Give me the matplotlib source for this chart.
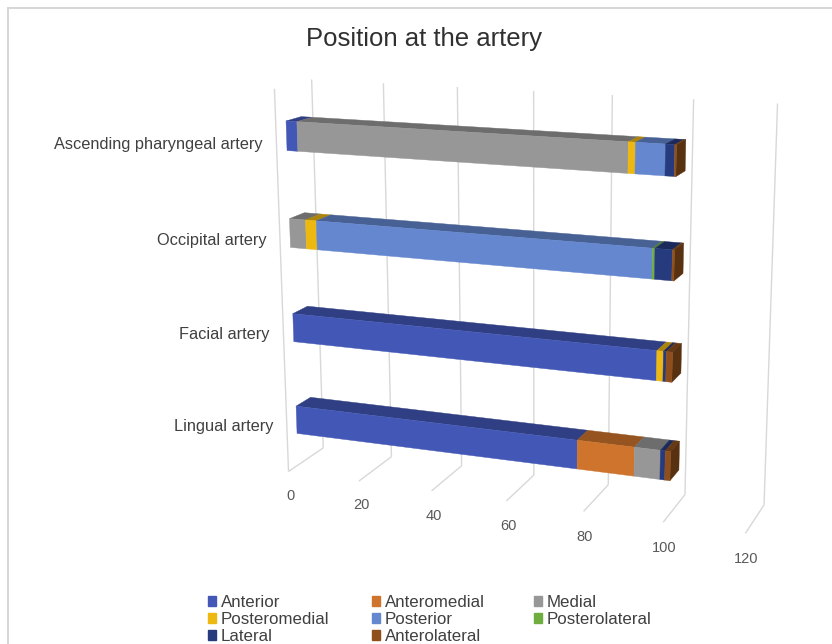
import numpy as np
import matplotlib
matplotlib.use("Agg")
import matplotlib.pyplot as plt
from matplotlib.lines import Line2D
from matplotlib.patches import Patch
from mpl_toolkits.mplot3d import proj3d
from mpl_toolkits.mplot3d.art3d import Line3DCollection, Poly3DCollection

plt.rcParams['font.family'] = ['Liberation Sans', 'DejaVu Sans']

categories = ["Lingual artery", "Facial artery", "Occipital artery", "Ascending pharyngeal artery"]
ticks = [0, 20, 40, 60, 80, 100, 120]

series_names = ["Anterior", "Anteromedial", "Medial", "Posteromedial",
                "Posterior", "Posterolateral", "Lateral", "Anterolateral"]
anterior = [76.5, 96.2, 0, 3]
anteromedial = [14.5, 0, 0, 0]
medial = [6.5, 0, 4.5, 85.5]
posteromedial = [0, 1.6, 3, 1.7]
posterior = [0, 0, 87.2, 7.2]
posterolateral = [0, 0, 0.6, 0]
lateral = [1.2, 0.7, 4.2, 2.2]
anterolateral = [1.3, 1.5, 0.5, 0.4]
series = [anterior, anteromedial, medial, posteromedial,
          posterior, posterolateral, lateral, anterolateral]
colors = ["#4358B6", "#CF742C", "#979797", "#EDB80F",
          "#6487CF", "#70AD3F", "#263A7E", "#8E4F1C"]

# camera of the picture: (value, depth, height) seen at pixel (px, py)
camera_world = [(v, 0, 0) for v in ticks] + [(v, 1, 0) for v in ticks] \
    + [(v, 1, 1) for v in ticks] + [(0, 0, 1)]
camera_pixel = [(289, 471), (358, 482), (432, 491), (507, 501), (583, 512), (663, 522), (745, 533),
                (323, 448), (391, 457), (462, 465), (534, 475), (609, 484), (685, 495), (764, 505),
                (312, 80), (383, 83), (457, 87), (533, 91), (612, 95), (694, 100), (778, 103),
                (275, 88)]


def fitCamera(world, pixel):
    rows = []
    rhs = []
    for (x, y, z), (px, py) in zip(world, pixel):
        rows.append([x, y, z, 1, 0, 0, 0, 0, -px * x, -px * y, -px * z])
        rhs.append(px)
        rows.append([0, 0, 0, 0, x, y, z, 1, -py * x, -py * y, -py * z])
        rhs.append(py)
    p = np.linalg.lstsq(np.array(rows, float), np.array(rhs, float), rcond=None)[0]
    return np.array([p[:4], p[4:8], [0, 1, 0, 0], [p[8], p[9], p[10], 1]])


def darker(color, amount):
    rgb = np.array(matplotlib.colors.to_rgb(color))
    return tuple(rgb * amount)


fig = plt.figure(figsize=(8.32, 6.44), dpi=100)
ax = fig.add_axes([0, (644 - 832) / 2 / 644, 1, 832 / 644], projection='3d', computed_zorder=False)
ax.set_axis_off()
ax.patch.set_visible(False)
M = fitCamera(camera_world, camera_pixel)
ax.get_proj = lambda: M
ax.viewLim.intervalx = (0, 832)
ax.viewLim.intervaly = (738, -94)


def label(x, y, z, text, **kwargs):
    px, py, _ = proj3d.proj_transform(x, y, z, M)
    ax.text2D(px, py, text, transform=ax.transData, zorder=3, **kwargs)


grid_lines = [[(0, 0, 0), (0, 0, 1)]]
for v in ticks:
    grid_lines.append([(v, 0, 0), (v, 1, 0)])
    grid_lines.append([(v, 1, 0), (v, 1, 1)])
    label(v + 0.4, 0, -0.066, str(v), ha='center', va='center', fontsize=10.5, color="#595959")
ax.add_collection3d(Line3DCollection(grid_lines, colors="#d8d8d8", linewidths=1.0, zorder=1))

depth0 = 0.27
depth1 = 0.68
bar_height = 0.075
for row, name in enumerate(categories):
    z0 = (row + 0.5) / 4 - bar_height / 2
    z1 = z0 + bar_height
    left = 0
    for values, color in zip(series, colors):
        if values[row] == 0:
            continue
        right = left + values[row]
        front = [(left, depth0, z0), (right, depth0, z0), (right, depth0, z1), (left, depth0, z1)]
        top = [(left, depth0, z1), (right, depth0, z1), (right, depth1, z1), (left, depth1, z1)]
        faces = [front, top]
        face_colors = [color, darker(color, 0.72)]
        if right >= 99.99:
            end = [(right, depth0, z0), (right, depth1, z0), (right, depth1, z1), (right, depth0, z1)]
            faces.append(end)
            face_colors.append(darker(color, 0.62))
        ax.add_collection3d(Poly3DCollection(faces, facecolors=face_colors, edgecolors=face_colors,
                                             linewidths=0.3, zorder=2))
        left = right
    label(-6.8, depth0, (row + 0.5) / 4 - 0.026, name, ha='right', va='center',
          fontsize=11.8, color="#404040")

fig.text(424 / 832, 1 - 39 / 644, "Position at the artery", ha='center', va='center',
         fontsize=18.5, color="#303030")

# legend, one per column because the columns are not evenly spaced
legend_columns = [(208, [0, 3, 6]), (372, [1, 4, 7]), (534, [2, 5])]
for x, members in legend_columns:
    handles = [Patch(color=colors[i]) for i in members]
    labels = [series_names[i] for i in members]
    fig.legend(handles, labels, loc='upper left', bbox_to_anchor=(x / 832, 1 - 595 / 644),
               frameon=False, fontsize=12.2, labelcolor="#404040", handlelength=0.45, handleheight=0.45,
               handletextpad=0.3, labelspacing=0.12, borderpad=0, borderaxespad=0)

# frame round the chart
fig.add_artist(Line2D([8 / 832, 8 / 832], [0, 1 - 8 / 644], color="#d6d6d6", linewidth=1.4))
fig.add_artist(Line2D([8 / 832, 1], [1 - 8 / 644, 1 - 8 / 644], color="#d6d6d6", linewidth=1.4))

plt.savefig("out.png", dpi=100)
